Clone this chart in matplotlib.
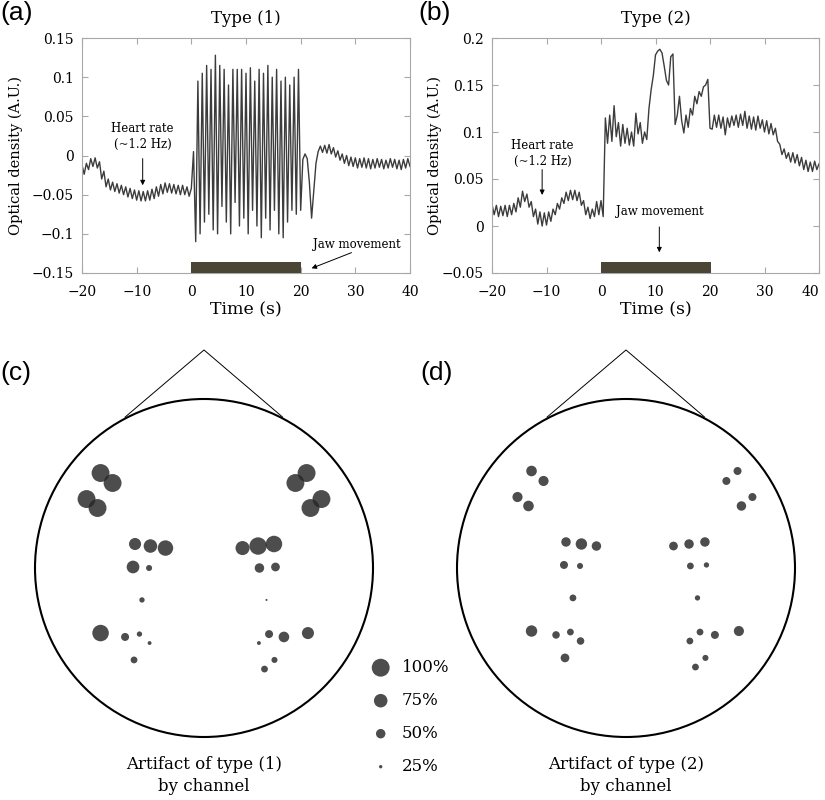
import numpy as np
import matplotlib
matplotlib.use("Agg")
import matplotlib.pyplot as plt
from matplotlib.patches import Circle, Rectangle
from matplotlib.ticker import FuncFormatter

# optical density traces, one sample every 0.4 s starting at -20 s
dt = 0.4
t_start = -20.0

od_type1 = [
    -0.012, -0.024, -0.010, -0.018, -0.004, -0.014, -0.003, -0.016, -0.008, -0.030,
    -0.020, -0.040, -0.030, -0.044, -0.034, -0.046, -0.036, -0.048, -0.038, -0.050,
    -0.040, -0.053, -0.042, -0.055, -0.044, -0.057, -0.045, -0.058, -0.046, -0.058,
    -0.045, -0.057, -0.043, -0.055, -0.040, -0.052, -0.037, -0.049, -0.035, -0.047,
    -0.036, -0.048, -0.037, -0.049, -0.038, -0.050, -0.038, -0.050, -0.040, -0.052,
    -0.042,
    0.005, -0.110, 0.095, -0.100, 0.105, -0.085, 0.115, -0.075, 0.110, -0.095,
    0.128, -0.100, 0.115, -0.065, 0.110, -0.085, 0.090, -0.100, 0.110, -0.060,
    0.110, -0.090, 0.110, -0.080, 0.105, -0.100, 0.112, -0.070, 0.095, -0.090,
    0.110, -0.105, 0.105, -0.080, 0.115, -0.095, 0.100, -0.070, 0.110, -0.100,
    0.095, -0.105, 0.100, -0.085, 0.090, -0.070, 0.100, -0.075, 0.110, -0.070,
    -0.005, 0.002, -0.004, -0.035, -0.080, -0.045, -0.010, 0.005, 0.012, 0.004,
    0.013, 0.003, 0.014, 0.002, 0.010, -0.002, 0.006, -0.006, 0.002, -0.010,
    0.000, -0.013, -0.002, -0.014, -0.003, -0.016, -0.004, -0.015, -0.003, -0.016,
    -0.004, -0.017, -0.005, -0.016, -0.004, -0.015, -0.005, -0.017, -0.006, -0.016,
    -0.004, -0.015, -0.005, -0.017, -0.006, -0.018, -0.005, -0.016, -0.004, -0.014,
]

od_type2 = [
    0.023, 0.012, 0.022, 0.010, 0.021, 0.011, 0.022, 0.010, 0.022, 0.012,
    0.024, 0.015, 0.030, 0.020, 0.037, 0.026, 0.034, 0.020, 0.026, 0.010,
    0.018, 0.002, 0.015, 0.000, 0.014, 0.001, 0.015, 0.005, 0.018, 0.012,
    0.024, 0.018, 0.030, 0.024, 0.036, 0.027, 0.038, 0.028, 0.038, 0.027,
    0.036, 0.022, 0.027, 0.012, 0.020, 0.008, 0.018, 0.010, 0.026, 0.012,
    0.027,
    0.010, 0.115, 0.088, 0.118, 0.090, 0.128, 0.095, 0.110, 0.085, 0.108,
    0.088, 0.104, 0.086, 0.100, 0.085, 0.120, 0.098, 0.110, 0.088, 0.100,
    0.092, 0.125, 0.145, 0.160, 0.182, 0.186, 0.188, 0.184, 0.170, 0.155,
    0.150, 0.180, 0.183, 0.108, 0.118, 0.138, 0.112, 0.099, 0.118, 0.105,
    0.125, 0.118, 0.138, 0.130, 0.143, 0.138, 0.148, 0.150, 0.156, 0.104,
    0.103, 0.118, 0.105, 0.118, 0.104, 0.116, 0.097, 0.115, 0.105, 0.117,
    0.107, 0.118, 0.105, 0.119, 0.107, 0.122, 0.104, 0.117, 0.103, 0.116,
    0.102, 0.117, 0.104, 0.113, 0.100, 0.112, 0.098, 0.109, 0.097, 0.104,
    0.090, 0.087, 0.076, 0.082, 0.072, 0.078, 0.068, 0.078, 0.067, 0.076,
    0.064, 0.073, 0.060, 0.070, 0.058, 0.068, 0.058, 0.069, 0.060, 0.066,
]

# jaw movement intervals (s)
jaw_type1 = [0.0, 20.0]
jaw_type2 = [0.0, 20.2]

# channel montage in head radii (x to the right, y towards the nose)
chan_x = [-0.612, -0.541, -0.695, -0.630,
          0.607, 0.541, 0.695, 0.630,
          -0.408, -0.317, -0.228,
          0.228, 0.320, 0.414,
          -0.420, -0.325, 0.328, 0.423,
          -0.367, 0.370,
          -0.612, -0.467, -0.382, -0.322,
          0.325, 0.385, 0.473, 0.615,
          -0.414, 0.417, 0.358]
chan_y = [0.562, 0.503, 0.408, 0.355,
          0.562, 0.503, 0.408, 0.355,
          0.142, 0.130, 0.118,
          0.118, 0.130, 0.142,
          0.006, 0.000, 0.000, 0.006,
          -0.189, -0.189,
          -0.385, -0.408, -0.391, -0.444,
          -0.444, -0.391, -0.408, -0.385,
          -0.544, -0.544, -0.598]

# share of trials with the artifact, per channel (%)
pct_type1 = [100, 100, 100, 100,
             100, 100, 100, 100,
             66, 75, 86,
             78, 97, 92,
             70, 36, 50, 47,
             33, 15,
             92, 44, 33, 27,
             27, 44, 57, 66,
             39, 36, 39]
pct_type2 = [57, 54, 54, 57,
             44, 44, 44, 50,
             50, 62, 50,
             47, 50, 50,
             44, 36, 39, 33,
             39, 33,
             62, 42, 39, 42,
             39, 39, 44, 54,
             47, 36, 39]

legend_pct = [100, 75, 50, 25]

# dot radius (head radii) for a given percentage
size_pct = [0, 25, 50, 75, 100]
size_rad = [0.0, 0.010, 0.028, 0.040, 0.053]

SERIF = "DejaVu Serif"
plt.rcParams["font.family"] = SERIF
plt.rcParams["axes.unicode_minus"] = True

fig = plt.figure(figsize=(8.25, 8.0), dpi=100)


def fmt(v, pos):
    return f"{v:g}".replace("-", "\u2212")


def draw_trace(rect, od, jaw, ylim, yticks, title, ylab_x):
    ax = fig.add_axes(rect)
    t = t_start + dt * np.arange(len(od))
    ax.plot(t, od, color="#3c3c3c", lw=1.0)
    ax.add_patch(Rectangle((jaw[0], ylim[0]), jaw[1] - jaw[0],
                           0.0145 * (ylim[1] - ylim[0]) / 0.3,
                           facecolor="#4a4535", edgecolor="none", zorder=3))
    ax.set_xlim(-20, 40)
    ax.set_ylim(*ylim)
    ax.set_xticks([-20, -10, 0, 10, 20, 30, 40])
    ax.set_yticks(yticks)
    ax.xaxis.set_major_formatter(FuncFormatter(fmt))
    ax.yaxis.set_major_formatter(FuncFormatter(fmt))
    ax.tick_params(direction="in", top=True, right=True, length=4, width=0.8,
                   color="#a8a8a8", labelsize=10, pad=6)
    ax.tick_params(axis="x", pad=9)
    for s in ax.spines.values():
        s.set_color("#a8a8a8")
        s.set_linewidth(0.8)
    ax.set_xlabel("Time (s)", fontsize=12.5)
    ax.xaxis.set_label_coords(0.5, -0.158)
    ax.xaxis.label.set_verticalalignment("center")
    ax.set_ylabel("Optical density (A.U.)", fontsize=10.5)
    ax.yaxis.set_label_coords(ylab_x, 0.5)
    ax.yaxis.label.set_verticalalignment("center")
    ax.text(0.5, 1.085, title, transform=ax.transAxes, ha="center",
            va="center", fontsize=12)
    return ax


arrow = dict(arrowstyle="-|>", color="black", lw=0.7, mutation_scale=7,
             shrinkA=0, shrinkB=0)

ax_a = draw_trace([82 / 825, 1 - 273 / 800, 328 / 825, 235 / 800], od_type1,
                  jaw_type1, (-0.15, 0.15),
                  [-0.15, -0.1, -0.05, 0, 0.05, 0.1, 0.15], "Type (1)", -0.201)
ax_a.text(-8.9, 0.024, "Heart rate\n(~1.2 Hz)", ha="center", va="center",
          fontsize=8.5, linespacing=1.25)
ax_a.annotate("", xy=(-8.9, -0.038), xytext=(-8.9, -0.004), arrowprops=arrow)
ax_a.text(30.3, -0.114, "Jaw movement", ha="center", va="center", fontsize=8.5)
ax_a.annotate("", xy=(22.0, -0.144), xytext=(29.3, -0.124), arrowprops=arrow)

ax_b = draw_trace([492 / 825, 1 - 273 / 800, 327 / 825, 235 / 800], od_type2,
                  jaw_type2, (-0.05, 0.2),
                  [-0.05, 0, 0.05, 0.1, 0.15, 0.2], "Type (2)", -0.174)
ax_b.text(-10.7, 0.077, "Heart rate\n(~1.2 Hz)", ha="center", va="center",
          fontsize=8.5, linespacing=1.25)
ax_b.annotate("", xy=(-10.8, 0.033), xytext=(-10.8, 0.060), arrowprops=arrow)
ax_b.text(10.8, 0.015, "Jaw movement", ha="center", va="center", fontsize=8.5)
ax_b.annotate("", xy=(10.7, -0.028), xytext=(10.7, -0.001), arrowprops=arrow)
# last tick label sits against the figure edge, as in the original
fig.canvas.draw()
ax_b.get_xticklabels()[-1].set_horizontalalignment("right")

# lower half: head maps, drawn in head-radius units (1 unit = 169 px)
R = 169.0
ax_h = fig.add_axes([0, 0, 1, 470 / 800])
ax_h.set_xlim(0, 825 / R)
ax_h.set_ylim(0, 470 / R)
ax_h.axis("off")

heads = [((204 / R, 232 / R), (0.0, 0.0), pct_type1, "Artifact of type (1)"),
         ((626 / R, 232 / R), (0.053, 0.012), pct_type2, "Artifact of type (2)")]

for (cx, cy), (ox, oy), pct, label in heads:
    ax_h.add_patch(Circle((cx, cy), 1.0, facecolor="none", edgecolor="black",
                          lw=1.5))
    ax_h.plot([cx - 0.467, cx, cx + 0.465], [cy + 0.893, cy + 1.29, cy + 0.893],
              color="black", lw=0.7)
    rad = np.interp(pct, size_pct, size_rad)
    for x, y, r in zip(chan_x, chan_y, rad):
        ax_h.add_patch(Circle((cx + ox + x, cy + oy + y), r,
                              facecolor="#262626", edgecolor="none", alpha=0.82))
    ax_h.text(cx, (800 - 769) / R, label, ha="center", va="baseline", fontsize=12)
    ax_h.text(cx, (800 - 791) / R, "by channel", ha="center", va="baseline",
              fontsize=12)

for i, p in enumerate(legend_pct):
    y = (800 - 667.7 - 33 * i) / R
    ax_h.add_patch(Circle((380.7 / R, y), np.interp(p, size_pct, size_rad),
                          facecolor="#262626", edgecolor="none", alpha=0.82))
    ax_h.text(401.7 / R, y, f"{p}%", ha="left", va="center", fontsize=12)

# panel letters
for lab, x, y in [("(a)", 0, 1), ("(b)", 418, 1), ("(c)", 0, 361), ("(d)", 420, 361)]:
    fig.text(x / 825, 1 - y / 800, lab, ha="left", va="top", fontsize=19,
             family="Liberation Sans")

fig.savefig("out.png", dpi=100)
